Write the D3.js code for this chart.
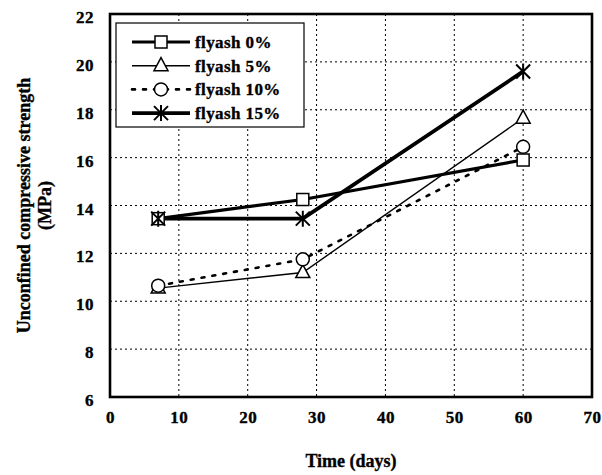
<!DOCTYPE html>
<html><head><meta charset="utf-8">
<script src="https://cdn.jsdelivr.net/npm/d3@7"></script>
<style>
html,body{margin:0;padding:0;background:#fff;}
svg text{font-family:"Liberation Serif","Times New Roman",serif;font-weight:bold;fill:#000;stroke:#000;stroke-width:0.35px;}
</style></head>
<body>
<svg id="chart" width="602" height="475"></svg>
<script>
const days = [7, 28, 60];
const seriesNames = ["flyash 0%", "flyash 5%", "flyash 10%", "flyash 15%"];
const fly0  = [13.45, 14.25, 15.9];
const fly5  = [10.55, 11.2, 17.65];
const fly10 = [10.65, 11.75, 16.45];
const fly15 = [13.45, 13.45, 19.6];
const xTicks = [0, 10, 20, 30, 40, 50, 60, 70];
const yTicks = [6, 8, 10, 12, 14, 16, 18, 20, 22];
const xTitle = "Time (days)";
const yTitle1 = "Unconfined compressive strength";
const yTitle2 = "(MPa)";

const svg = d3.select("#chart");
const L = 110, R = 592, T = 14, B = 397;
const x = d3.scaleLinear().domain([0, 70]).range([L, R]);
const y = d3.scaleLinear().domain([6, 22]).range([B, T]);

// grid
const g = svg.append("g");
g.selectAll(".gx").data(xTicks.slice(1, -1)).enter().append("line")
  .attr("x1", d => x(d)).attr("x2", d => x(d)).attr("y1", T).attr("y2", B)
  .attr("stroke", "#000").attr("stroke-width", 1).attr("stroke-dasharray", "2,3");
g.selectAll(".gy").data(yTicks.slice(1, -1)).enter().append("line")
  .attr("x1", L).attr("x2", R).attr("y1", d => y(d)).attr("y2", d => y(d))
  .attr("stroke", "#000").attr("stroke-width", 1).attr("stroke-dasharray", "2,3");

// axes (labels only)
const xAxis = d3.axisBottom(x).tickValues(xTicks).tickSize(0).tickPadding(14).tickFormat(d3.format("d"));
const xa = svg.append("g").attr("transform", `translate(0,${B})`).call(xAxis);
xa.select(".domain").remove();
xa.selectAll("text").attr("font-size", 17).attr("font-family", "Liberation Serif").attr("font-weight", "bold").attr("letter-spacing", "0.5px");
const yAxis = d3.axisLeft(y).tickValues(yTicks).tickSize(0).tickPadding(16).tickFormat(d3.format("d"));
const ya = svg.append("g").attr("transform", `translate(${L},0)`).call(yAxis);
ya.select(".domain").remove();
ya.selectAll("text").attr("font-size", 17).attr("font-family", "Liberation Serif").attr("font-weight", "bold").attr("dy", "0.5em").attr("letter-spacing", "0.5px");

// frame
svg.append("rect").attr("x", L).attr("y", T).attr("width", R - L).attr("height", B - T)
  .attr("fill", "none").attr("stroke", "#000").attr("stroke-width", 2.6);

// titles
svg.append("text").attr("x", (L + R) / 2).attr("y", 467).attr("text-anchor", "middle")
  .attr("font-size", 18).text(xTitle);
svg.append("text").attr("transform", `translate(30,${(T + B) / 2}) rotate(-90)`).attr("text-anchor", "middle")
  .attr("font-size", 18).text(yTitle1);
svg.append("text").attr("transform", `translate(51,${(T + B) / 2}) rotate(-90)`).attr("text-anchor", "middle")
  .attr("font-size", 18).text(yTitle2);

const styles = [
  {vals: fly0,  width: 3.2, dash: null,  marker: "square"},
  {vals: fly5,  width: 1.4, dash: null,  marker: "triangle"},
  {vals: fly10, width: 2.6, dash: "3,8", marker: "circle"},
  {vals: fly15, width: 3.8, dash: null,  marker: "star"}
];

function drawMarker(sel, type, cx, cy) {
  if (type === "square") {
    sel.append("rect").attr("x", cx - 6).attr("y", cy - 6).attr("width", 12).attr("height", 12)
      .attr("fill", "#fff").attr("stroke", "#000").attr("stroke-width", 1.5);
  } else if (type === "triangle") {
    sel.append("path").attr("d", `M${cx},${cy - 8}L${cx + 7},${cy + 5}L${cx - 7},${cy + 5}Z`)
      .attr("fill", "#fff").attr("stroke", "#000").attr("stroke-width", 1.5);
  } else if (type === "circle") {
    sel.append("circle").attr("cx", cx).attr("cy", cy).attr("r", 6.5)
      .attr("fill", "#fff").attr("stroke", "#000").attr("stroke-width", 1.5);
  } else {
    const s = 7;
    sel.append("path").attr("d",
      `M${cx - s},${cy - s}L${cx + s},${cy + s}M${cx + s},${cy - s}L${cx - s},${cy + s}M${cx},${cy - s - 1}L${cx},${cy + s + 1}`)
      .attr("fill", "none").attr("stroke", "#000").attr("stroke-width", 2);
  }
}

const line = d3.line().x((d, i) => x(days[i])).y(d => y(d));
styles.forEach(s => {
  svg.append("path").attr("d", line(s.vals)).attr("fill", "none").attr("stroke", "#000")
    .attr("stroke-width", s.width).attr("stroke-dasharray", s.dash)
    .attr("stroke-linecap", s.dash ? "round" : "butt");
});
styles.forEach(s => {
  const mg = svg.append("g");
  s.vals.forEach((v, i) => drawMarker(mg, s.marker, x(days[i]), y(v)));
});

// legend
const lg = svg.append("g");
lg.append("rect").attr("x", 116).attr("y", 23).attr("width", 188).attr("height", 104)
  .attr("fill", "#fff").attr("stroke", "#000").attr("stroke-width", 1.2);
styles.forEach((s, i) => {
  const ly = 42 + i * 23.7;
  lg.append("line").attr("x1", 132).attr("x2", 190).attr("y1", ly).attr("y2", ly)
    .attr("stroke", "#000").attr("stroke-width", s.width).attr("stroke-dasharray", s.dash)
    .attr("stroke-linecap", s.dash ? "round" : "butt");
  drawMarker(lg, s.marker, 161, ly);
  lg.append("text").attr("x", 195).attr("y", ly).attr("dy", "0.35em").attr("font-size", 17)
    .attr("letter-spacing", "0.4px").text(seriesNames[i]);
});
</script>
</body></html>
